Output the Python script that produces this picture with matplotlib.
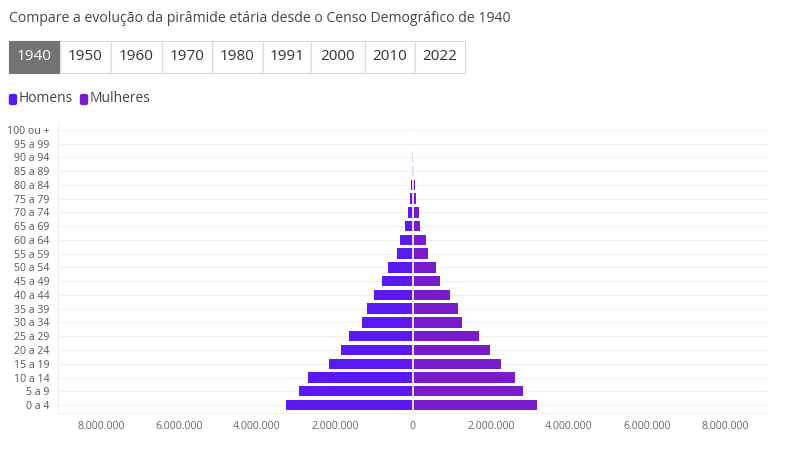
import matplotlib
matplotlib.use("Agg")
import matplotlib.pyplot as plt
from matplotlib.patches import FancyBboxPatch, Rectangle
from matplotlib.ticker import FuncFormatter

plt.rcParams['font.family'] = ['Open Sans', 'DejaVu Sans']

# ---- data (1940) ----
age_groups = ["0 a 4", "5 a 9", "10 a 14", "15 a 19", "20 a 24", "25 a 29", "30 a 34",
              "35 a 39", "40 a 44", "45 a 49", "50 a 54", "55 a 59", "60 a 64", "65 a 69",
              "70 a 74", "75 a 79", "80 a 84", "85 a 89", "90 a 94", "95 a 99", "100 ou +"]
homens = [3260000, 2920000, 2680000, 2160000, 1840000, 1650000, 1300000,
          1170000, 1000000, 790000, 640000, 420000, 340000, 195000,
          130000, 77000, 50000, 22000, 12000, 5000, 3000]
mulheres = [3170000, 2820000, 2630000, 2270000, 1970000, 1690000, 1270000,
            1150000, 940000, 690000, 600000, 385000, 340000, 190000,
            146000, 70000, 50000, 24000, 13000, 6000, 4000]
years = ["1940", "1950", "1960", "1970", "1980", "1991", "2000", "2010", "2022"]
x_ticks = [-8000000, -6000000, -4000000, -2000000, 0, 2000000, 4000000, 6000000, 8000000]

title = "Compare a evolução da pirâmide etária desde o Censo Demográfico de 1940"
series_names = ["Homens", "Mulheres"]
c_h = "#5a18f3"
c_m = "#7a1bcb"

W, H = 800, 450
fig = plt.figure(figsize=(8, 4.5), dpi=100)

def fx(px):
    return px / W

def fy(py):
    return 1 - py / H

# title
fig.text(fx(9), fy(19), title, fontsize=10.05, color="#444444", va="center", ha="left")

# year buttons
bounds = [8.5, 60, 111, 162, 212, 263, 311, 365, 415, 465]
for i, yr in enumerate(years):
    x0, x1 = bounds[i], bounds[i + 1]
    sel = (i == 0)
    r = Rectangle((fx(x0), fy(73)), fx(x1 - x0), 32 / H, transform=fig.transFigure,
                  facecolor="#737373" if sel else "white",
                  edgecolor="#737373" if sel else "#d9d9d9", linewidth=0.8)
    fig.add_artist(r)
    fig.text(fx((x0 + x1) / 2), fy(57), yr, fontsize=11, color="white" if sel else "#333333",
             ha="center", va="center")

# legend
leg = [(9, series_names[0], c_h), (80, series_names[1], c_m)]
for x0, name, col in leg:
    p = FancyBboxPatch((fx(x0 + 1), fy(104.5)), fx(6), 10 / H,
                       boxstyle="round,pad=0.0015,rounding_size=0.004",
                       transform=fig.transFigure, facecolor=col, edgecolor="none")
    fig.add_artist(p)
    fig.text(fx(x0 + 10), fy(99), name, fontsize=10, color="#444444", ha="left", va="center")

# axes
ax = fig.add_axes([fx(58), fy(413), fx(767 - 58), (413 - 123) / H])
y = list(range(len(age_groups)))
neg_h = [-v for v in homens]
ax.barh(y, neg_h, height=0.76, color=c_h, edgecolor="none", zorder=3)
ax.barh(y, mulheres, height=0.76, color=c_m, edgecolor="none", zorder=3)
ax.axvline(0, color="white", linewidth=1.2, zorder=4)

ax.set_xlim(-9100000, 9080000)
ax.set_ylim(-0.58, 20.5)
ax.set_xticks(x_ticks)
ax.xaxis.set_major_formatter(FuncFormatter(lambda v, p: f"{abs(int(v)):,}".replace(",", ".")))
ax.set_yticks(y)
ax.set_yticklabels(age_groups)
ax.tick_params(axis="y", length=0, labelsize=7.6, labelcolor="#555555", pad=6)
ax.tick_params(axis="x", length=0, labelsize=7.6, labelcolor="#666666", pad=6)
ax.grid(axis="y", color="#eeeeee", linewidth=0.8, zorder=0)
ax.grid(axis="x", visible=False)
for s in ["top", "right"]:
    ax.spines[s].set_visible(False)
ax.spines["left"].set_color("#eeeeee")
ax.spines["bottom"].set_color("#eeeeee")
ax.set_facecolor("white")

fig.savefig("out.png", dpi=100, facecolor="white")
